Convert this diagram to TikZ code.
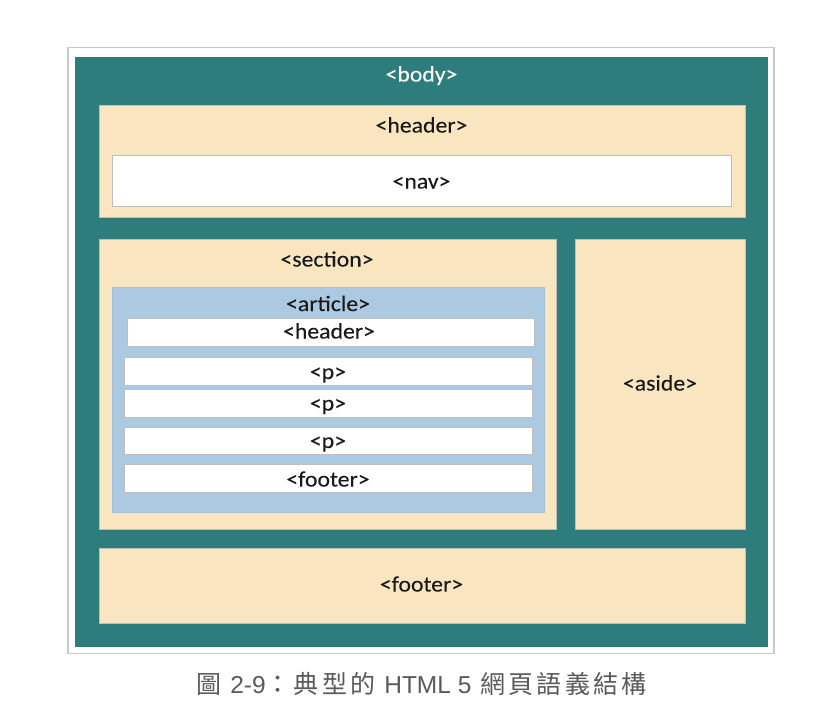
\documentclass[tikz,border=0pt]{standalone}
\usepackage{fontspec}
\setmainfont{Carlito}
\newfontfamily\lblfont[FakeStretch=1.08,FakeBold=0.08]{Carlito}
\newfontfamily\cjk[LetterSpace=13]{Noto Sans CJK TC}
\newfontfamily\capl{Liberation Sans}
\definecolor{teal0}{RGB}{46,125,125}
\definecolor{tan0}{RGB}{249,230,193}
\definecolor{blue0}{RGB}{171,202,226}
\definecolor{edge0}{RGB}{190,190,190}
\definecolor{frame0}{RGB}{200,200,200}
\definecolor{txt0}{RGB}{25,25,25}
\definecolor{cap0}{RGB}{90,90,90}
\tikzset{
  tanbox/.style={fill=tan0, draw=edge0, line width=0.8pt},
  bluebox/.style={fill=blue0, draw=blue0!85!gray, line width=0.6pt},
  whitebox/.style={fill=white, draw=edge0, line width=0.8pt},
  lbl/.style={font=\lblfont\fontsize{22}{26}\selectfont, text=txt0, inner sep=0pt, anchor=base},
  bodylbl/.style={lbl, text=white},
}
\newcommand\latcap[1]{{\capl\fontsize{24.5}{28}\selectfont #1}}
\begin{document}
\begin{tikzpicture}[x=1pt,y=-1pt]
\useasboundingbox[fill=white] (0,0) rectangle (835,718);
% outer frame
\draw[frame0, line width=1.2pt, fill=white] (68,47.5) rectangle (774,653.5);
\fill[teal0] (75,57) rectangle (768,647);
% header
\draw[tanbox] (99,105) rectangle (745,217);
\draw[whitebox] (112,155) rectangle (731,206);
% section
\draw[tanbox] (99,239) rectangle (556.5,529);
% aside
\draw[tanbox] (575.5,239) rectangle (745,529);
% footer
\draw[tanbox] (99,548) rectangle (745,623);
% article
\draw[bluebox] (112,287) rectangle (544,512);
\draw[whitebox] (127,318.5) rectangle (534,346);
\draw[whitebox] (124,357.5) rectangle (532,385);
\draw[whitebox] (124,389) rectangle (532,417);
\draw[whitebox] (124,427) rectangle (532,454);
\draw[whitebox] (124,464) rectangle (532,492);
% labels
\node[bodylbl] (body) at (421.5,81.5) {<body>};
\node[lbl] (header) at (421.5,132.5) {<header>};
\node[lbl] (nav) at (421.5,188.5) {<nav>};
\node[lbl] (section) at (327,266.5) {<section>};
\node[lbl] (article) at (328,311) {<article>};
\node[lbl] (aheader) at (329,338.5) {<header>};
\node[lbl] (p1) at (328,379) {<p>};
\node[lbl] (p2) at (328,410.5) {<p>};
\node[lbl] (p3) at (328,448) {<p>};
\node[lbl] (afooter) at (328,486.5) {<footer>};
\node[lbl] (aside) at (660,390.5) {<aside>};
\node[lbl] (footer) at (421.5,591.5) {<footer>};
\node[font=\cjk\fontsize{25}{29}\selectfont, text=cap0, inner sep=0pt, anchor=base] (caption) at (421.5,693.5)
  {圖 \latcap{2-9}：典型的 \latcap{HTML 5} 網頁語義結構};
\end{tikzpicture}
\end{document}
